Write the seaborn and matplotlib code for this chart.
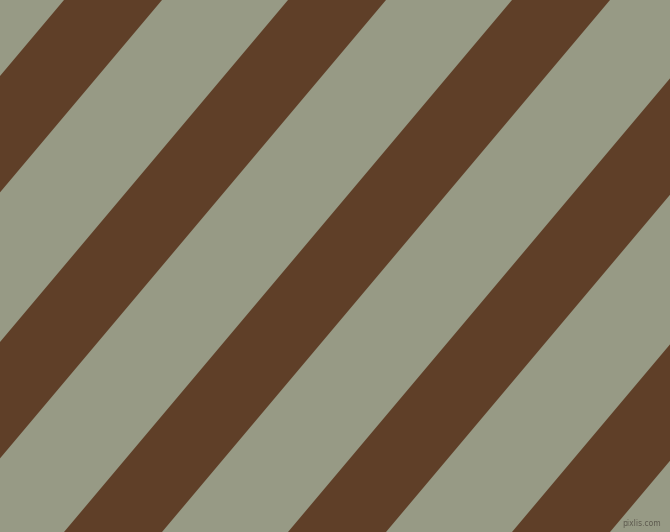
import numpy as np
import matplotlib
matplotlib.use("AGG")
import matplotlib.pyplot as plt
import seaborn as sns

# stripe pattern (pixels along the top edge)
stripe_starts = [-160, 64, 288, 512, 736, 960]
stripe_width = 98
slope = 1.1875  # dy/dx of the stripe edges
canvas_w, canvas_h = 670, 532

grey = '#979a85'
brown = '#5f3f28'

sns.set_theme(style="white")

fig = plt.figure(figsize=(6.7, 5.32), dpi=100)
fig.patch.set_facecolor(grey)
ax = fig.add_axes([0, 0, 1, 1])
ax.set_facecolor(grey)

x = np.linspace(0, canvas_w, 200)
for c0 in stripe_starts:
    # region between x + y/slope = c0 and c0 + width
    ax.fill_between(x, (c0 - x) * slope, (c0 + stripe_width - x) * slope,
                    color=brown, linewidth=0)

ax.set_xlim(0, canvas_w)
ax.set_ylim(canvas_h, 0)
ax.axis('off')

ax.text(661, 523, 'pixlis.com', fontsize=5.5, color='#5d5a4e',
        ha='right', va='center')

plt.savefig('out.png', dpi=100, facecolor=grey)
